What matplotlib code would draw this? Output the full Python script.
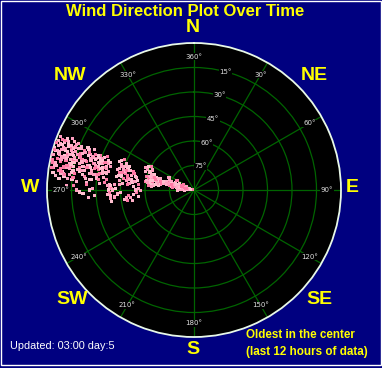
import numpy as np
import matplotlib
matplotlib.use('Agg')
import matplotlib.pyplot as plt
from matplotlib.patches import Rectangle

# wind direction in degrees (clockwise from north) and ring position
# (90 = centre = oldest reading, 0 = rim = newest reading)
recent_dir = [284, 287, 281, 290, 286, 279, 283, 289, 292, 277, 285, 280, 288, 282, 291, 276, 284, 286, 278, 290,
              283, 287, 280, 291, 285, 278, 289, 282, 293, 276, 286, 281, 288, 284, 279, 292, 275, 290, 283, 287,
              277, 285, 282, 289, 280,
              286, 281, 290, 284, 278, 288, 283, 292, 276, 285, 280, 287, 282, 290, 274, 288, 279, 284, 291, 277,
              286, 281, 283, 289, 275,
              285, 280, 289, 283, 277, 291, 286, 281, 288, 274, 284, 279, 290, 282, 287, 276, 285, 292,
              283, 288, 280, 286, 278, 290, 284, 281, 287, 289, 282, 285,
              270, 268, 272, 266, 271, 269, 273, 267, 272, 270,
              282, 288, 279, 285, 291, 277, 284, 289, 281, 286,
              290, 283, 278, 287, 280, 292, 285, 276, 288, 282,
              279, 286, 283, 289, 277, 284, 291, 281, 287, 280,
              285, 278, 290, 283, 288, 276, 282, 286, 279, 284,
              289, 281, 287, 275, 283, 290, 280, 285, 278, 288,
              284, 291, 282, 286, 279, 287, 283, 277, 289, 281,
              286, 280, 285, 292, 278, 284, 288, 282, 276, 290,
              283, 287, 281, 289, 285, 279, 286, 284, 280, 288,
              276, 280, 284, 288, 291, 278, 282, 286, 290, 274,
              279, 283, 287, 281, 285, 289, 277, 284, 280, 288,
              275, 282, 286, 290, 279]
recent_pos = [1, 0.5, 2, 1.5, 3, 2.5, 4, 3.5, 2, 3, 5, 4.5, 6, 1, 4, 5, 6.5, 2, 6, 5.5,
              7, 8, 9, 7.5, 10, 8.5, 11, 12, 9, 10, 9.5, 11.5, 7, 12.5, 7, 11, 12, 8, 10, 12,
              9.5, 8, 6.5, 9, 11,
              13, 14, 15, 16, 14.5, 17, 18, 14, 16, 19, 17.5, 15.5, 20, 18.5, 18, 13.5, 19, 14, 16.5, 13,
              17, 18.5, 15, 19.5, 15,
              21, 22, 23, 24, 22.5, 21.5, 25, 26, 27, 24, 28, 25.5, 26, 21, 23.5, 27, 26.5, 24.5,
              29, 30, 31, 32, 29.5, 31.5, 33, 34, 35, 28.5, 30.5, 34.5,
              18, 22, 16, 25, 28, 20, 24, 29, 12, 26,
              1.5, 2.5, 3, 4, 6, 7.5, 8, 5, 10.5, 11,
              13, 14, 16, 17, 19, 20, 22, 23, 24.5, 25,
              2, 4.5, 6, 8.5, 10, 12, 13, 15, 17, 18,
              20.5, 21, 22, 23, 25, 26, 27.5, 29, 31, 32.5,
              0.8, 3.5, 5.5, 7, 9, 10, 12.5, 14.5, 16, 18,
              19.5, 21, 23, 24, 26, 27, 28, 30, 31, 33,
              1, 3, 5, 6.5, 8, 9.5, 11, 13.5, 15.5, 16.5,
              7, 9, 11, 12, 14, 15, 17.5, 19, 20, 22,
              31, 33, 35, 36, 33.5, 34, 36.5, 30, 29, 32,
              28, 31.5, 33, 35.5, 27, 34.5, 36, 29.5, 26, 31,
              35, 32.5, 37, 27.5, 30.5]

middle_dir = [274, 272, 270, 268, 266, 264, 262, 271, 267, 273,
              280, 283, 286, 289, 292, 294, 285, 288, 291, 282,
              275, 278, 281, 284, 287, 276, 279, 282, 285, 274, 277, 280, 283, 286, 288, 279,
              262, 264, 266, 268, 270, 272, 263, 265, 260, 269, 273, 261,
              270, 265, 273, 284, 289, 277, 281, 286, 291, 279,
              283, 275, 268, 263, 271, 287, 282, 278, 290, 285,
              267, 274, 280, 276]
middle_pos = [38, 38.5, 37.5, 38, 39, 38.5, 39, 39.5, 37, 37,
              42, 43, 42.5, 43, 42, 43.5, 41.5, 44, 41, 44,
              46, 48, 45, 47, 49, 50, 51, 48.5, 46, 44.5, 52, 49, 50.5, 45, 47.5, 46.5,
              47, 48.5, 53, 55, 54, 56, 55.5, 50, 52, 57, 53, 49,
              40, 41, 39, 45, 46, 44, 43, 47, 45.5, 50,
              53, 49, 45, 51, 42, 51, 54, 53.5, 48, 52,
              43, 41, 55, 56]

inner_dir = [291, 294, 297, 299, 292, 295, 293,
             280, 283, 286, 278, 281, 284, 287, 289, 276, 279, 282, 285, 288, 277, 280, 283, 286, 290,
             275, 278, 284, 281, 287,
             282, 285, 288, 279, 291, 284, 287, 280, 283, 286, 289, 296, 278, 281]
inner_pos = [58, 59, 58.5, 60, 60.5, 57.5, 61,
             60, 62, 61, 63, 64, 65, 63.5, 66, 62, 66.5, 67, 68, 64.5, 65, 69, 70, 66, 62.5,
             64, 68, 61.5, 60.5, 68.5,
             63, 65.5, 67, 61, 64, 69, 62, 67.5, 64, 59.5, 68, 62, 66, 70]

oldest_dir = [283, 285, 281, 287, 284, 282, 286, 280, 288, 283, 285, 281, 284, 286, 282, 283, 285, 280, 287, 284,
              282, 283, 281, 284, 279, 290, 278, 286, 283, 288, 285, 280, 293, 296, 291, 276, 284, 282, 286, 289,
              270, 274, 295, 298, 268, 292, 276, 300,
              282, 284, 286, 283, 285, 281, 287, 284, 282, 283, 280, 288, 285, 283, 286, 281]
oldest_pos = [71, 72, 73, 74, 75, 76, 77, 74.5, 72.5, 78, 79, 80, 81, 76.5, 82, 83, 84, 78.5, 80.5, 85,
              86, 87, 88, 89, 76, 75, 79, 82.5, 73.5, 77.5, 86.5, 83, 74, 73, 78, 77, 79.5, 72, 70.5, 80,
              80, 82, 80, 83, 84, 85, 86, 78,
              73, 74, 75.5, 76, 78, 79, 79, 81.5, 80, 84.5, 81, 82, 85.5, 87.5, 88, 85]

ring_values = [15, 30, 45, 60, 75]
angle_ticks = list(range(0, 360, 30))
compass = ['N', 'NE', 'E', 'SE', 'S', 'SW', 'W', 'NW']
compass_xy = [(193, 28), (314, 75), (352, 187), (319, 300), (193, 350), (72, 300), (30, 187), (70, 75)]
shades = ['#ff9fc0', '#ffc0d0', '#ff7aa6', '#ffb0c8']

W, H = 382, 368
fig = plt.figure(figsize=(W / 100, H / 100), dpi=100, facecolor='#000080')
fig.add_artist(Rectangle((0.6 / W, 3 / H), 380.5 / W, 364.5 / H, transform=fig.transFigure,
                         fill=False, ec='white', lw=1))

ax = fig.add_axes([47 / W, 31 / H, 294 / W, 294 / H], projection='polar')
ax.set_facecolor('black')
ax.set_theta_zero_location('N')
ax.set_theta_direction(-1)
ax.set_ylim(90, 0)
ax.set_xticks(np.radians(angle_ticks))
ax.set_xticklabels([])
ax.set_yticks(ring_values)
ax.set_yticklabels([])
ax.grid(color='#006400', lw=0.9)
ax.spines['polar'].set_color('#e8f8e8')
ax.spines['polar'].set_linewidth(1.3)

dirs = recent_dir + middle_dir + inner_dir + oldest_dir
pos = recent_pos + middle_pos + inner_pos + oldest_pos
cols = [shades[i % len(shades)] for i in range(len(dirs))]
ax.scatter(np.radians(dirs), pos, s=5, marker='s', c=cols, linewidths=0, zorder=3)

lab_box = dict(fc='black', ec='none', pad=0.4)
for a in angle_ticks:
    ax.text(np.radians(a), 8.5, f'{a if a else 360}°', color='#e0e0e0', fontsize=5,
            ha='center', va='center', bbox=lab_box, zorder=4)
for v in ring_values:
    ax.text(np.radians(15), v, f'{v}°', color='#e0e0e0', fontsize=5,
            ha='center', va='center', bbox=lab_box, zorder=4)

fig.text(185 / W, 1 - 12 / H, 'Wind Direction Plot Over Time', color='yellow', fontsize=12,
         fontweight='bold', family='Liberation Sans', ha='center', va='center')
for name, (x, y) in zip(compass, compass_xy):
    fig.text(x / W, 1 - y / H, name, color='yellow', fontsize=14, fontweight='bold',
             family='Liberation Sans', ha='center', va='center')

fig.text(10 / W, 1 - 346 / H, 'Updated: 03:00 day:5', color='white', fontsize=7.8,
         family='Liberation Sans', ha='left', va='center')
fig.text(246 / W, 1 - 335 / H, 'Oldest in the center', color='yellow', fontsize=8.4,
         fontweight='bold', family='Liberation Sans', ha='left', va='center')
fig.text(246 / W, 1 - 352 / H, '(last 12 hours of data)', color='yellow', fontsize=8.4,
         fontweight='bold', family='Liberation Sans', ha='left', va='center')

fig.savefig('out.png', dpi=100, facecolor=fig.get_facecolor())
